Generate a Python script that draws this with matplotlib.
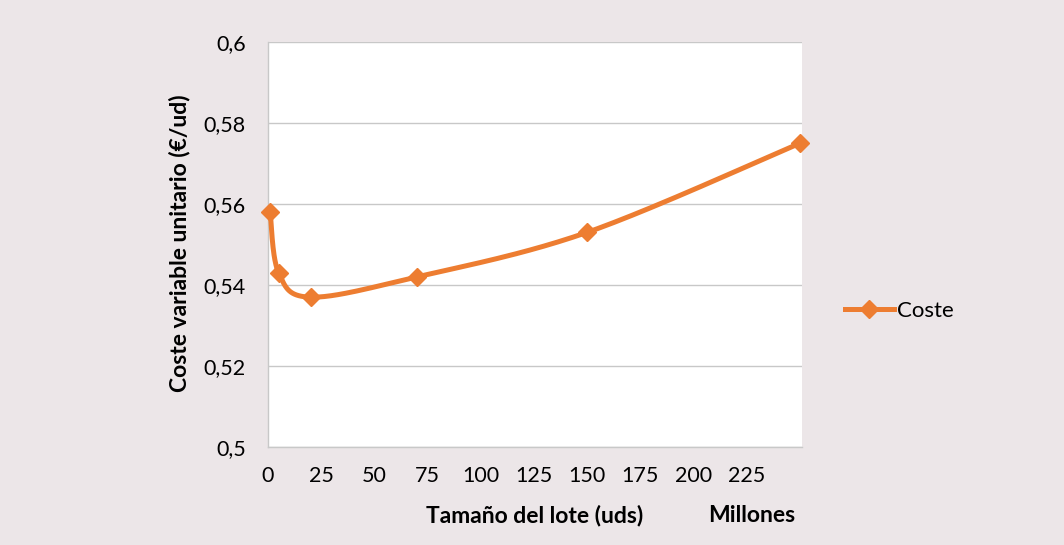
import numpy as np
import matplotlib
matplotlib.use('Agg')
from matplotlib import pyplot as plt
from matplotlib.ticker import FuncFormatter

plt.rcParams['font.family'] = ['Lato', 'DejaVu Sans']

# Datos
lote_millones = [1, 5, 20, 70, 150, 250]
coste_unitario = [0.558, 0.543, 0.537, 0.542, 0.553, 0.575]
x_ticks = [0, 25, 50, 75, 100, 125, 150, 175, 200, 225]
y_ticks = [0.5, 0.52, 0.54, 0.56, 0.58, 0.6]

BG = '#ECE6E8'
ORANGE = '#ED7D31'
GRID = '#C8C8C8'


def suavizar(xs, ys, sx, sy, n=40):
    """Curva suavizada tipo Excel (Catmull-Rom parametrica)"""
    p = np.column_stack([np.asarray(xs) / sx, np.asarray(ys) / sy])
    p = np.vstack([p[0], p, p[-1]])
    out = []
    for i in range(1, len(p) - 2):
        p0, p1, p2, p3 = p[i - 1], p[i], p[i + 1], p[i + 2]
        c1 = p1 + (p2 - p0) / 6.0
        c2 = p2 - (p3 - p1) / 6.0
        t = np.linspace(0, 1, n)[:, None]
        seg = ((1 - t) ** 3) * p1 + 3 * ((1 - t) ** 2) * t * c1 + 3 * (1 - t) * t ** 2 * c2 + t ** 3 * p2
        out.append(seg)
    out = np.vstack(out)
    return out[:, 0] * sx, out[:, 1] * sy


fig = plt.figure(figsize=(10.64, 5.45), dpi=100)
fig.patch.set_facecolor(BG)
ax = fig.add_axes([0.2519, 0.1798, 0.5019, 0.7431])
ax.set_facecolor('white')

# escala de pixeles para el suavizado
sx = 250 / 534.0
sy = 0.1 / 405.0
xs, ys = suavizar(lote_millones, coste_unitario, sx, sy)
ax.plot(xs, ys, color=ORANGE, lw=3.6, solid_capstyle='round', zorder=3)
ax.plot(lote_millones, coste_unitario, linestyle='none', marker='D', ms=9.5,
        color=ORANGE, clip_on=False, zorder=4)
# entrada de leyenda
ax.plot([], [], color=ORANGE, lw=3.6, marker='D', ms=9.5, label='Coste')

ax.set_xlim(0, 251)
ax.set_ylim(0.5, 0.6)
ax.set_xticks(x_ticks)
ax.set_yticks(y_ticks)
ax.yaxis.set_major_formatter(FuncFormatter(lambda v, _: ('%g' % round(v, 2)).replace('.', ',')))
ax.tick_params(axis='both', length=0, labelsize=15.5, colors='black')
ax.tick_params(axis='x', pad=14)
ax.tick_params(axis='y', pad=16)
ax.grid(axis='y', color=GRID, lw=1)
ax.set_axisbelow(True)
for side in ['top', 'right']:
    ax.spines[side].set_visible(False)
for side in ['left', 'bottom']:
    ax.spines[side].set_color(GRID)
    ax.spines[side].set_linewidth(1)

fig.text(180 / 1064, 1 - 243 / 545, 'Coste variable unitario (€/ud)', rotation=90,
         ha='center', va='center', fontsize=16.5, fontweight='bold')
fig.text(535 / 1064, 1 - 516 / 545, 'Tamaño del lote (uds)', ha='center', va='center',
         fontsize=16.5, fontweight='bold')
fig.text(752 / 1064, 1 - 516 / 545, 'Millones', ha='center', va='center',
         fontsize=16.5, fontweight='bold')

ax.legend(loc='center left', bbox_to_anchor=(825 / 1064, 1 - 311 / 545),
          bbox_transform=fig.transFigure, frameon=False, fontsize=16,
          handlelength=2.2, handletextpad=0.15)

fig.savefig('out.png', dpi=100, facecolor=BG)
